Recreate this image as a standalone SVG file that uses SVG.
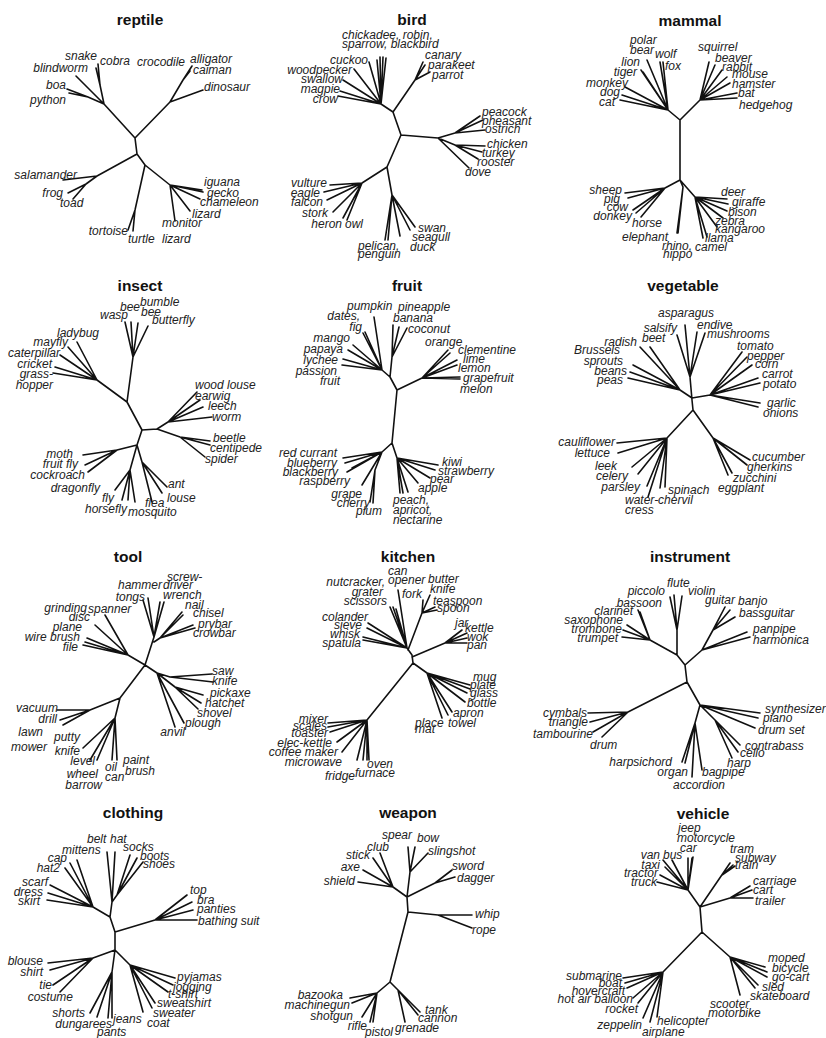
<svg xmlns="http://www.w3.org/2000/svg" width="826" height="1038" viewBox="0 0 826 1038">
<style>
.t{font-family:"Liberation Sans",Arial,sans-serif;font-weight:bold;font-size:15.5px;text-anchor:middle;fill:#111}
.l{font-family:"Liberation Sans",Arial,sans-serif;font-style:italic;font-size:12px;fill:#222}
.e{text-anchor:end}
#connectors path{fill:none;stroke:#111;stroke-width:1.6;stroke-linecap:round;stroke-linejoin:round}
</style>
<rect width="826" height="1038" fill="#fff"/>
<g id="connectors">
<path d="M135 138L137 154M135 138L104 104L100 85L98 64M100 85L96 68M104 104L76 76M104 104L88 97L67 89M88 97L69 93M135 138L170 102L203 90M170 102L183 80L192 66M183 80L190 71M137 154L97 176L63 180M97 176L86 184L68 193M86 184L73 199M137 154L145 165L135 210L128 230M135 210L133 231M145 165L170 185L202 190M170 185L203 192M170 185L200 199M170 185L190 211M170 185L175 221"/>
<path d="M401 135L393 112L381 104M393 112L415 80L423 62M415 80L425 65M415 80L430 72M381 104L377 60M381 104L380 57M381 104L383 57M381 104L386 58M381 104L369 62M381 104L354 69M381 104L343 80M381 104L340 91M381 104L338 96M401 135L438 138L455 133L480 116M455 133L483 120M455 133L485 130M438 138L455 145L485 146M455 145L482 152M455 145L478 159M438 138L469 168M401 135L387 167L362 183L330 185M362 183L324 192M362 183L327 200M362 183L333 212M362 183L343 218M362 183L347 220M387 167L392 195L385 240M392 195L388 240M392 195L400 236M392 195L410 230M392 195L415 227"/>
<path d="M680 120L680 180M680 120L668 110L660 62M668 110L663 62M668 110L647 60M668 110L641 70M668 110L643 72M668 110L625 87M668 110L622 95M668 110L620 100M680 120L700 100L709 62M700 100L715 65M700 100L722 70M700 100L727 77M700 100L730 83M700 100L737 93M700 100L737 98M680 180L665 188L625 193M665 188L628 198M665 188L633 210M665 188L636 213M665 188L641 217M680 180L683 187L677 233M683 187L678 233M680 180L695 197L727 199M695 197L728 204M695 197L727 211M695 197L723 218M695 197L717 227M695 197L707 237M695 197L703 238"/>
<path d="M127 402L142 430L137 445M142 430L157 429M127 402L133 357L125 322M133 357L131 322M133 357L138 323M133 357L148 326M127 402L97 380L77 342M97 380L68 347M97 380L60 355M97 380L55 367M97 380L53 373M157 429L168 422L197 392M168 422L200 400M168 422L203 407M168 422L212 417M157 429L180 437L210 441M180 437L210 445M180 437L205 457M137 445L117 450L83 455M117 450L85 465M117 450L88 472M137 445L130 470L115 490M130 470L122 500M130 470L128 500M130 470L135 502M137 445L142 462L152 502M142 462L162 493M142 462L167 487"/>
<path d="M397 390L392 443M397 390L390 377L382 370L374 317M382 370L365 332M382 370L363 333M382 370L353 345M382 370L348 350M382 370L343 359M382 370L342 365M390 377L392 357L393 325M392 357L399 327M392 357L407 328M397 390L422 378L448 350M422 378L450 353M422 378L457 360M422 378L457 365M422 378L460 377M422 378L460 379M392 443L382 452L343 458M382 452L345 463M382 452L347 472M382 452L352 468M382 452L362 485M382 452L375 470L370 502M375 470L373 503M392 443L397 458L400 493M397 458L403 493M397 458L408 492M397 458L418 483M397 458L430 478M397 458L435 470M397 458L438 465"/>
<path d="M692 400L690 377L685 325M690 377L677 335M690 377L697 332M690 377L705 333M692 398L680 390L640 347M680 390L650 347M680 390L633 365M680 390L630 372M680 390L628 378M692 398L710 395L742 352M710 395L747 357M710 395L752 365M710 395L758 378M710 395L760 383M710 395L760 403M710 395L758 407M692 400L693 410L667 438L617 443M667 438L618 453M667 438L632 467M667 438L638 474M667 438L647 486M667 438L648 497M667 438L660 488M667 438L665 487M693 410L713 438L750 460M713 438L747 465M713 438L732 473M713 438L728 475"/>
<path d="M145 665L128 655L105 615M128 655L95 625M128 655L87 638M128 655L85 642M128 655L83 645M145 665L154 637L143 600M154 637L148 598M154 637L160 602M154 637L164 602M154 642L160 638L182 612M160 638L183 615M160 638L193 625M160 638L195 628M145 665L157 673L170 677L212 674M170 677L213 682M157 673L175 687L203 695M175 687L201 703M175 687L198 709M157 673L175 727M157 673L184 723M145 665L120 698L90 710L57 710M90 710L60 720M90 710L63 725M120 698L115 718L83 748M115 718L90 760M115 718L97 760M115 718L112 760M115 718L117 760"/>
<path d="M412 655L413 663M412 655L407 648L398 590M407 648L390 607M407 648L393 607M407 648L396 609M407 648L368 623M407 648L367 628M407 648L363 637M407 648L363 640M408 650L422 613L423 600M422 613L430 595M422 613L435 607M422 613L437 610M412 657L445 643L462 630M445 643L467 633M445 643L467 638M445 643L467 643M413 663L427 673L470 685M427 673L470 689M427 673L467 693M427 673L465 702M427 673L452 712M427 673L448 715M427 673L442 718M413 663L367 720L328 723M367 720L328 727M367 720L330 732M367 720L337 742M367 720L342 752M367 720L357 760M367 720L363 760M367 720L367 760M367 720L369 760"/>
<path d="M685 665L687 682M685 665L677 655L677 630L670 597M677 630L674 595M677 630L682 596M677 655L650 640L638 610M650 640L640 612M650 640L627 625M650 640L623 630M650 640L622 637M685 665L702 650L713 630L725 607M713 630L730 610M713 630L735 617M702 650L747 632M702 650L750 637M687 682L628 712L588 713M628 712L590 722M628 712L593 732M628 712L602 737M687 682L700 705L760 713M700 705L758 718M700 705L755 728M700 705L715 720L740 745M715 720L738 752M715 720L732 758M700 705L695 723L682 762M695 723L685 763M695 723L692 777M695 723L702 770"/>
<path d="M115 932L115 950M115 932L110 917L112 902L107 852M112 902L115 852M112 902L117 895L130 855M117 895L137 858M117 895L143 862M110 917L93 907L77 860M93 907L70 863M93 907L65 868M93 907L50 885M93 907L48 893M93 907L47 900M115 932L155 920L187 895M155 920L192 902M155 920L193 910M155 920L197 920M115 950L93 958L48 963M93 958L50 970M93 958L53 985M93 958L60 992M115 950L112 972L90 1013M112 972L97 1017M112 972L108 1018M112 972L112 1018M115 950L130 965L175 978M130 965L173 985M130 965L168 992M130 965L155 1003M130 965L152 1008M130 965L143 1012"/>
<path d="M407 897L408 912M407 897L393 887L380 853M393 887L373 858M393 887L363 870M393 887L358 882M407 897L410 872L408 847M410 872L415 847M410 872L428 853M407 897L435 883L452 870M435 883L455 877M408 912L438 915L472 915M438 915L472 928M408 912L390 982L377 993L350 998M377 993L352 1003M377 993L362 1017M377 993L370 1022M377 993L373 1022M390 982L398 990L405 1022M398 990L420 1012M398 990L418 1015"/>
<path d="M700 907L702 932M700 907L688 890L663 860M688 890L672 860M688 890L688 858M688 890L692 858M688 890L693 857M688 890L665 867M688 890L660 875M688 890L657 882M700 907L730 863M722 875L735 866M722 875L733 865M700 907L730 898L750 886M730 898L752 890M730 898L753 898M702 932L663 972L623 978M663 972L625 983M663 972L627 988M663 972L633 998M663 972L638 1003M663 972L643 1018M663 972L650 1022M663 972L657 1017M702 932L730 957L765 967M730 957L767 972M730 957L767 977M730 957L758 985M730 957L755 988M730 957L740 995"/>
</g>
<g id="reptile">
<text class="t" x="140" y="25">reptile</text>
<text class="l e" x="97" y="60">snake</text><text class="l" x="100" y="65">cobra</text><text class="l e" x="88" y="72">blindworm</text><text class="l e" x="66" y="89">boa</text><text class="l e" x="66" y="104">python</text>
<text class="l" x="137" y="66">crocodile</text><text class="l" x="190" y="63">alligator</text><text class="l" x="193" y="74">caiman</text><text class="l" x="204" y="91">dinosaur</text>
<text class="l e" x="77" y="179">salamander</text><text class="l e" x="63" y="197">frog</text><text class="l" x="60" y="207">toad</text><text class="l e" x="128" y="235">tortoise</text><text class="l" x="128" y="243">turtle</text>
<text class="l" x="204" y="186">iguana</text><text class="l" x="207" y="197">gecko</text><text class="l" x="200" y="206">chameleon</text><text class="l" x="192" y="218">lizard</text><text class="l" x="162" y="227">monitor</text><text class="l" x="162" y="243">lizard</text>
</g>
<g id="bird">
<text class="t" x="412" y="25">bird</text>
<text class="l" x="342" y="39">chickadee, robin,</text><text class="l" x="342" y="48">sparrow, blackbird</text>
<text class="l e" x="368" y="64">cuckoo</text><text class="l e" x="352" y="74">woodpecker</text><text class="l e" x="343" y="83">swallow</text><text class="l e" x="340" y="93">magpie</text><text class="l e" x="338" y="103">crow</text>
<text class="l" x="425" y="59">canary</text><text class="l" x="428" y="69">parakeet</text><text class="l" x="432" y="79">parrot</text>
<text class="l" x="482" y="116">peacock</text><text class="l" x="482" y="125">pheasant</text><text class="l" x="485" y="133">ostrich</text><text class="l" x="487" y="148">chicken</text><text class="l" x="482" y="157">turkey</text><text class="l" x="477" y="166">rooster</text><text class="l" x="465" y="176">dove</text>
<text class="l e" x="327" y="187">vulture</text><text class="l e" x="320" y="197">eagle</text><text class="l e" x="323" y="206">falcon</text><text class="l e" x="328" y="217">stork</text><text class="l e" x="342" y="228">heron</text><text class="l" x="345" y="228">owl</text>
<text class="l" x="418" y="232">swan</text><text class="l" x="412" y="241">seagull</text><text class="l" x="358" y="250">pelican,</text><text class="l" x="358" y="258">penguin</text><text class="l" x="410" y="251">duck</text>
</g>
<g id="mammal">
<text class="t" x="690" y="26">mammal</text>
<text class="l" x="630" y="44">polar</text><text class="l" x="630" y="54">bear</text><text class="l" x="655" y="58">wolf</text><text class="l e" x="640" y="66">lion</text><text class="l" x="665" y="70">fox</text><text class="l e" x="637" y="76">tiger</text><text class="l e" x="628" y="87">monkey</text><text class="l e" x="620" y="96">dog</text><text class="l e" x="615" y="106">cat</text>
<text class="l" x="698" y="51">squirrel</text><text class="l" x="715" y="62">beaver</text><text class="l" x="722" y="71">rabbit</text><text class="l" x="732" y="78">mouse</text><text class="l" x="732" y="88">hamster</text><text class="l" x="738" y="97">bat</text><text class="l" x="739" y="109">hedgehog</text>
<text class="l e" x="622" y="194">sheep</text><text class="l e" x="620" y="203">pig</text><text class="l e" x="628" y="211">cow</text><text class="l e" x="632" y="220">donkey</text><text class="l" x="632" y="227">horse</text><text class="l e" x="668" y="241">elephant</text><text class="l" x="662" y="250">rhino,</text><text class="l" x="663" y="258">hippo</text>
<text class="l" x="695" y="251">camel</text><text class="l" x="705" y="242">llama</text><text class="l" x="715" y="233">kangaroo</text><text class="l" x="715" y="225">zebra</text><text class="l" x="728" y="216">bison</text><text class="l" x="732" y="206">giraffe</text><text class="l" x="721" y="196">deer</text>
</g>
<g id="insect">
<text class="t" x="140" y="291">insect</text>
<text class="l" x="140" y="306">bumble</text><text class="l e" x="140" y="311">bee</text><text class="l e" x="128" y="319">wasp</text><text class="l" x="141" y="316">bee</text><text class="l" x="152" y="324">butterfly</text>
<text class="l" x="57" y="337">ladybug</text><text class="l e" x="68" y="346">mayfly</text><text class="l e" x="60" y="357">caterpillar</text><text class="l e" x="52" y="368">cricket</text><text class="l e" x="53" y="378">grass-</text><text class="l e" x="53" y="389">hopper</text>
<text class="l" x="195" y="389">wood louse</text><text class="l" x="195" y="400">earwig</text><text class="l" x="208" y="410">leech</text><text class="l" x="212" y="421">worm</text><text class="l" x="213" y="442">beetle</text><text class="l" x="210" y="452">centipede</text><text class="l" x="205" y="463">spider</text>
<text class="l e" x="73" y="458">moth</text><text class="l e" x="78" y="468">fruit fly</text><text class="l e" x="85" y="479">cockroach</text><text class="l e" x="100" y="492">dragonfly</text><text class="l" x="102" y="502">fly</text><text class="l" x="168" y="488">ant</text><text class="l" x="167" y="502">louse</text><text class="l" x="145" y="507">flea</text><text class="l e" x="127" y="513">horsefly</text><text class="l" x="128" y="516">mosquito</text>
</g>
<g id="fruit">
<text class="t" x="407" y="291">fruit</text>
<text class="l" x="347" y="310">pumpkin</text><text class="l" x="398" y="311">pineapple</text><text class="l e" x="360" y="320">dates,</text><text class="l" x="393" y="322">banana</text><text class="l e" x="362" y="331">fig</text><text class="l" x="408" y="333">coconut</text><text class="l e" x="350" y="342">mango</text><text class="l" x="425" y="346">orange</text><text class="l" x="458" y="354">clementine</text><text class="l e" x="343" y="353">papaya</text><text class="l" x="463" y="363">lime</text><text class="l e" x="338" y="364">lychee</text><text class="l" x="458" y="372">lemon</text><text class="l e" x="337" y="375">passion</text><text class="l" x="463" y="382">grapefruit</text><text class="l e" x="340" y="385">fruit</text><text class="l" x="460" y="393">melon</text>
<text class="l e" x="337" y="457">red currant</text><text class="l e" x="337" y="467">blueberry</text><text class="l e" x="338" y="476">blackberry</text><text class="l e" x="350" y="485">raspberry</text><text class="l e" x="362" y="498">grape</text><text class="l e" x="370" y="507">cherry</text><text class="l e" x="382" y="515">plum</text>
<text class="l" x="393" y="504">peach,</text><text class="l" x="393" y="514">apricot,</text><text class="l" x="393" y="524">nectarine</text><text class="l" x="442" y="466">kiwi</text><text class="l" x="438" y="475">strawberry</text><text class="l" x="430" y="483">pear</text><text class="l" x="418" y="492">apple</text>
</g>
<g id="vegetable">
<text class="t" x="683" y="291">vegetable</text>
<text class="l" x="658" y="317">asparagus</text><text class="l" x="697" y="329">endive</text><text class="l e" x="677" y="332">salsify</text><text class="l" x="707" y="338">mushrooms</text><text class="l" x="642" y="342">beet</text><text class="l e" x="637" y="346">radish</text><text class="l" x="737" y="350">tomato</text><text class="l e" x="620" y="354">Brussels</text><text class="l" x="747" y="360">pepper</text><text class="l e" x="623" y="365">sprouts</text><text class="l" x="755" y="368">corn</text><text class="l e" x="627" y="375">beans</text><text class="l" x="762" y="378">carrot</text><text class="l e" x="623" y="384">peas</text><text class="l" x="763" y="388">potato</text><text class="l" x="767" y="407">garlic</text><text class="l" x="763" y="417">onions</text>
<text class="l e" x="615" y="446">cauliflower</text><text class="l e" x="610" y="457">lettuce</text><text class="l" x="752" y="461">cucumber</text><text class="l" x="747" y="471">gherkins</text><text class="l e" x="617" y="470">leek</text><text class="l e" x="628" y="480">celery</text><text class="l" x="733" y="482">zucchini</text><text class="l e" x="640" y="491">parsley</text><text class="l" x="718" y="492">eggplant</text><text class="l" x="668" y="494">spinach</text><text class="l" x="625" y="504">water-chervil</text><text class="l" x="625" y="514">cress</text>
</g>
<g id="tool">
<text class="t" x="128" y="562">tool</text>
<text class="l" x="167" y="581">screw-</text><text class="l e" x="162" y="589">hammer</text><text class="l" x="163" y="589">driver</text><text class="l e" x="145" y="601">tongs</text><text class="l" x="163" y="599">wrench</text><text class="l" x="185" y="609">nail</text><text class="l e" x="87" y="612">grinding</text><text class="l" x="88" y="613">spanner</text><text class="l" x="193" y="617">chisel</text><text class="l e" x="90" y="621">disc</text><text class="l" x="198" y="628">prybar</text><text class="l e" x="82" y="631">plane</text><text class="l" x="193" y="637">crowbar</text><text class="l e" x="80" y="641">wire brush</text><text class="l e" x="78" y="651">file</text>
<text class="l" x="212" y="675">saw</text><text class="l" x="212" y="685">knife</text><text class="l" x="210" y="697">pickaxe</text><text class="l" x="205" y="707">hatchet</text><text class="l" x="197" y="717">shovel</text><text class="l" x="185" y="727">plough</text><text class="l e" x="185" y="736">anvil</text>
<text class="l e" x="58" y="712">vacuum</text><text class="l e" x="57" y="723">drill</text><text class="l e" x="43" y="736">lawn</text><text class="l e" x="47" y="751">mower</text><text class="l e" x="80" y="741">putty</text><text class="l e" x="80" y="755">knife</text><text class="l e" x="95" y="765">level</text><text class="l" x="105" y="771">oil</text><text class="l" x="123" y="764">paint</text><text class="l e" x="98" y="778">wheel</text><text class="l" x="105" y="781">can</text><text class="l" x="125" y="775">brush</text><text class="l e" x="102" y="789">barrow</text>
</g>
<g id="kitchen">
<text class="t" x="408" y="562">kitchen</text>
<text class="l" x="388" y="575">can</text><text class="l e" x="385" y="586">nutcracker,</text><text class="l" x="388" y="584">opener</text><text class="l" x="428" y="583">butter</text><text class="l e" x="383" y="596">grater</text><text class="l e" x="422" y="598">fork</text><text class="l" x="430" y="593">knife</text><text class="l e" x="387" y="605">scissors</text><text class="l" x="433" y="605">teaspoon</text><text class="l" x="437" y="612">spoon</text><text class="l e" x="368" y="621">colander</text><text class="l e" x="362" y="629">sieve</text><text class="l" x="455" y="627">jar</text><text class="l" x="465" y="632">kettle</text><text class="l e" x="360" y="638">whisk</text><text class="l" x="467" y="641">wok</text><text class="l e" x="361" y="647">spatula</text><text class="l" x="467" y="649">pan</text>
<text class="l" x="473" y="681">mug</text><text class="l" x="470" y="689">plate</text><text class="l" x="470" y="697">glass</text><text class="l" x="467" y="707">bottle</text><text class="l" x="453" y="717">apron</text><text class="l" x="415" y="727">place</text><text class="l" x="448" y="727">towel</text><text class="l" x="415" y="733">mat</text>
<text class="l e" x="328" y="723">mixer</text><text class="l e" x="327" y="730">scales</text><text class="l e" x="328" y="737">toaster</text><text class="l e" x="332" y="747">elec-kettle</text><text class="l e" x="338" y="756">coffee maker</text><text class="l e" x="342" y="766">microwave</text><text class="l" x="367" y="768">oven</text><text class="l e" x="355" y="780">fridge</text><text class="l" x="355" y="777">furnace</text>
</g>
<g id="instrument">
<text class="t" x="690" y="562">instrument</text>
<text class="l" x="667" y="587">flute</text><text class="l e" x="665" y="595">piccolo</text><text class="l" x="688" y="595">violin</text><text class="l" x="705" y="604">guitar</text><text class="l" x="738" y="605">banjo</text><text class="l e" x="662" y="607">bassoon</text><text class="l e" x="633" y="615">clarinet</text><text class="l" x="739" y="617">bassguitar</text><text class="l e" x="623" y="624">saxophone</text><text class="l e" x="622" y="633">trombone</text><text class="l" x="753" y="633">panpipe</text><text class="l e" x="618" y="642">trumpet</text><text class="l" x="753" y="644">harmonica</text>
<text class="l e" x="587" y="717">cymbals</text><text class="l e" x="588" y="726">triangle</text><text class="l e" x="593" y="738">tambourine</text><text class="l" x="590" y="749">drum</text><text class="l" x="765" y="713">synthesizer</text><text class="l" x="763" y="722">piano</text><text class="l" x="758" y="734">drum set</text><text class="l" x="745" y="750">contrabass</text><text class="l" x="740" y="757">cello</text><text class="l" x="727" y="767">harp</text><text class="l e" x="672" y="766">harpsichord</text><text class="l e" x="688" y="776">organ</text><text class="l" x="702" y="776">bagpipe</text><text class="l" x="673" y="789">accordion</text>
</g>
<g id="clothing">
<text class="t" x="133" y="818">clothing</text>
<text class="l" x="87" y="843">belt</text><text class="l" x="110" y="843">hat</text><text class="l" x="62" y="854">mittens</text><text class="l" x="123" y="851">socks</text><text class="l e" x="67" y="862">cap</text><text class="l" x="140" y="860">boots</text><text class="l e" x="60" y="872">hat2</text><text class="l" x="143" y="868">shoes</text><text class="l e" x="48" y="886">scarf</text><text class="l e" x="43" y="896">dress</text><text class="l e" x="40" y="905">skirt</text>
<text class="l" x="190" y="894">top</text><text class="l" x="197" y="904">bra</text><text class="l" x="197" y="913">panties</text><text class="l" x="198" y="925">bathing suit</text>
<text class="l e" x="43" y="965">blouse</text><text class="l e" x="43" y="976">shirt</text><text class="l e" x="52" y="989">tie</text><text class="l e" x="73" y="1001">costume</text><text class="l" x="177" y="981">pyjamas</text><text class="l" x="173" y="991">jogging</text><text class="l" x="168" y="998">t-shirt</text><text class="l" x="157" y="1007">sweatshirt</text><text class="l" x="153" y="1017">sweater</text><text class="l" x="147" y="1027">coat</text><text class="l e" x="85" y="1017">shorts</text><text class="l e" x="112" y="1028">dungarees</text><text class="l" x="113" y="1023">jeans</text><text class="l" x="97" y="1036">pants</text>
</g>
<g id="weapon">
<text class="t" x="408" y="818">weapon</text>
<text class="l" x="382" y="839">spear</text><text class="l" x="417" y="842">bow</text><text class="l" x="367" y="851">club</text><text class="l" x="428" y="855">slingshot</text><text class="l e" x="370" y="859">stick</text><text class="l e" x="360" y="871">axe</text><text class="l" x="452" y="870">sword</text><text class="l e" x="355" y="885">shield</text><text class="l" x="457" y="882">dagger</text><text class="l" x="475" y="918">whip</text><text class="l" x="472" y="934">rope</text>
<text class="l e" x="343" y="999">bazooka</text><text class="l e" x="350" y="1009">machinegun</text><text class="l e" x="353" y="1020">shotgun</text><text class="l e" x="367" y="1030">rifle</text><text class="l" x="365" y="1036">pistol</text><text class="l" x="395" y="1032">grenade</text><text class="l" x="425" y="1014">tank</text><text class="l" x="418" y="1022">cannon</text>
</g>
<g id="vehicle">
<text class="t" x="703" y="819">vehicle</text>
<text class="l" x="678" y="832">jeep</text><text class="l" x="677" y="842">motorcycle</text><text class="l" x="680" y="852">car</text><text class="l e" x="660" y="859">van</text><text class="l" x="663" y="859">bus</text><text class="l" x="730" y="853">tram</text><text class="l" x="735" y="862">subway</text><text class="l e" x="660" y="869">taxi</text><text class="l" x="735" y="869">train</text><text class="l e" x="658" y="877">tractor</text><text class="l e" x="657" y="886">truck</text><text class="l" x="753" y="885">carriage</text><text class="l" x="753" y="894">cart</text><text class="l" x="755" y="905">trailer</text>
<text class="l" x="768" y="962">moped</text><text class="l" x="772" y="972">bicycle</text><text class="l" x="772" y="981">go-cart</text><text class="l" x="762" y="991">sled</text><text class="l" x="750" y="1000">skateboard</text><text class="l" x="710" y="1008">scooter</text><text class="l" x="708" y="1017">motorbike</text>
<text class="l e" x="622" y="980">submarine</text><text class="l e" x="622" y="987">boat</text><text class="l e" x="625" y="995">hovercraft</text><text class="l e" x="633" y="1003">hot air balloon</text><text class="l e" x="638" y="1013">rocket</text><text class="l" x="657" y="1025">helicopter</text><text class="l e" x="642" y="1029">zeppelin</text><text class="l" x="642" y="1036">airplane</text>
</g>
</svg>
